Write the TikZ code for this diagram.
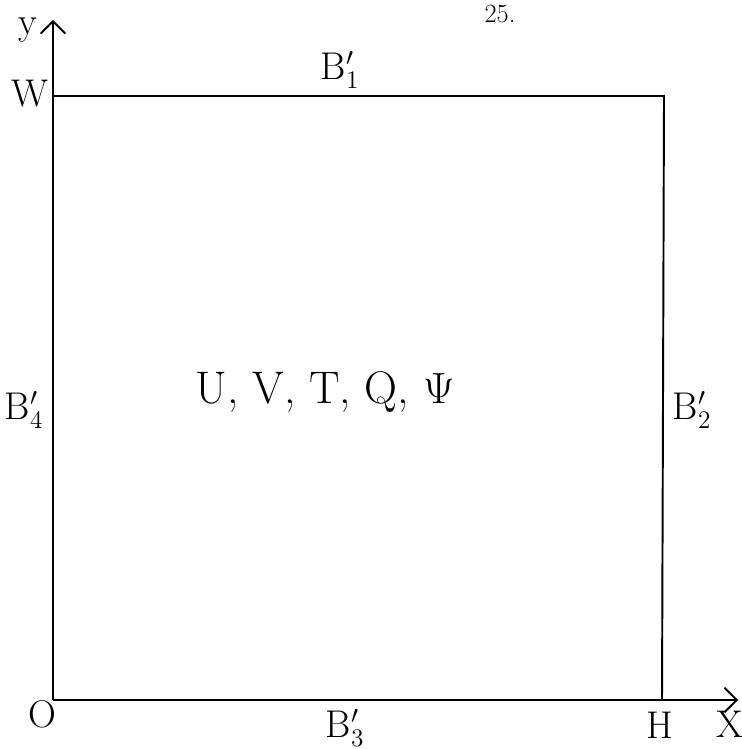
\documentclass[tikz,border=0pt]{standalone}
\usetikzlibrary{arrows.meta}
\begin{document}
\begin{tikzpicture}[x=0.02cm,y=-0.02cm,
  line/.style={line width=1.1pt},
  axis/.style={line width=1.1pt,-{Straight Barb[length=7pt,width=14pt,line width=1.1pt]}},
  lbl/.style={inner sep=0pt,font=\fontsize{22}{26}\selectfont},
  big/.style={inner sep=0pt,font=\fontsize{26}{30}\selectfont}]
\useasboundingbox (0,0) rectangle (742,749);
\coordinate (O) at (53,700);
\coordinate (Ytip) at (53,20);
\coordinate (Xtip) at (738,700);
\coordinate (Wc) at (53,96);
\coordinate (TR) at (664,96);
\coordinate (Hc) at (662,700);
\draw[axis] (O) -- (Ytip);
\draw[axis] (O) -- (Xtip);
\draw[line] (Wc) -- (TR) -- (Hc);
\node[lbl] (y) at (28,30) {y};
\node[lbl] (w) at (30,94) {W};
\node[lbl] (o) at (42,714) {O};
\node[lbl] (h) at (660,725) {H};
\node[lbl] (x) at (730,724) {X};
\node[lbl] (b1) at (340,70) {B$'_1$};
\node[lbl] (b3) at (345,728) {B$'_3$};
\node[lbl] (b4) at (24,410) {B$'_4$};
\node[lbl] (b2) at (692,410) {B$'_2$};
\node[inner sep=0pt,font=\fontsize{15}{17}\selectfont] (n25) at (500,14) {25.};
\node[big] (main) at (325,392) {U, V, T, Q, $\Psi$};
\end{tikzpicture}
\end{document}
